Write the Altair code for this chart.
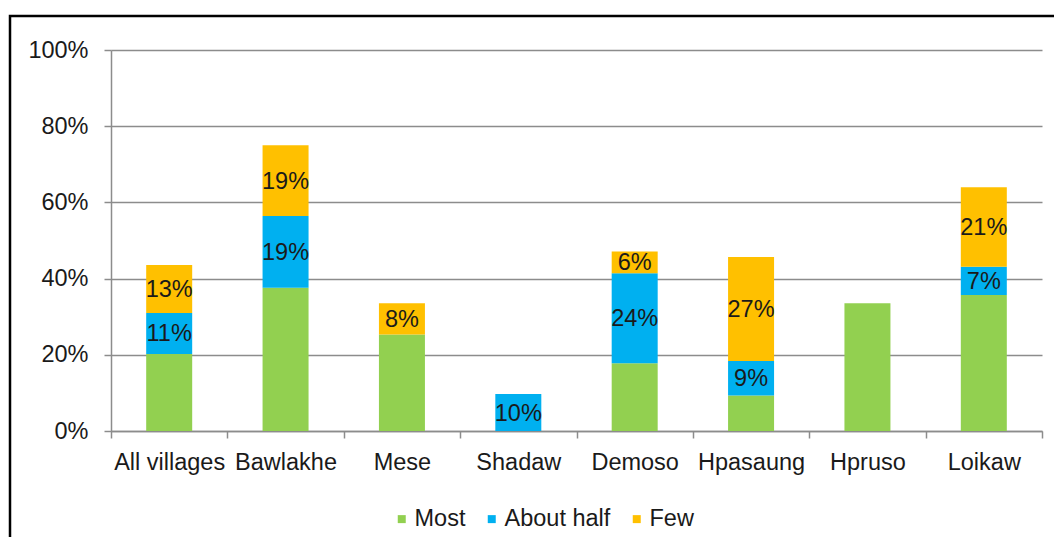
import altair as alt
import pandas as pd

categories = ["All villages", "Bawlakhe", "Mese", "Shadaw", "Demoso", "Hpasaung", "Hpruso", "Loikaw"]
series = ["Most", "About half", "Few"]
colors = ["#92D050", "#00B0F0", "#FFC000"]

most = [20.2, 37.6, 25.3, 0.0, 17.8, 9.3, 33.5, 35.7]
about_half = [10.8, 18.8, 0.0, 9.7, 23.6, 9.1, 0.0, 7.4]
few = [12.6, 18.6, 8.2, 0.0, 5.7, 27.3, 0.0, 20.9]

y_ticks = [0, 20, 40, 60, 80, 100]

rows = []
for i, c in enumerate(categories):
    for k, (s, vals) in enumerate(zip(series, [most, about_half, few])):
        rows.append({"cat": c, "series": s, "value": vals[i], "order": k})
df = pd.DataFrame(rows)

FONT = "Liberation Sans"
FS = 23.5
GRID = "#8c8c8c"
TXT = "#1a1a1a"

base = alt.Chart(df).transform_stack(
    stack="value", groupby=["cat"], as_=["y0", "y1"],
    sort=[alt.SortField("order", order="ascending")]
).transform_calculate(mid="(datum.y0 + datum.y1) / 2")

x_enc = alt.X(
    "cat:N", sort=categories,
    scale=alt.Scale(paddingInner=0, paddingOuter=0),
    axis=alt.Axis(title=None, labelAngle=0, tickBand="extent", tickSize=7,
                  tickColor=GRID, tickWidth=1.5, domainColor=GRID, domainWidth=1.5,
                  labelFont=FONT, labelFontSize=FS, labelColor=TXT,
                  labelPadding=12),
)

bars = base.mark_bar(size=46).encode(
    x=x_enc,
    y=alt.Y("y0:Q", scale=alt.Scale(domain=[0, 100]),
            axis=alt.Axis(title=None, values=y_ticks, labelExpr="datum.value + '%'",
                          grid=True, gridColor=GRID, gridWidth=1.5,
                          domainColor=GRID, domainWidth=1.5,
                          tickSize=7, tickColor=GRID, tickWidth=1.5,
                          labelFont=FONT, labelFontSize=FS, labelColor=TXT,
                          labelPadding=16)),
    y2="y1:Q",
    color=alt.Color("series:N", sort=series,
                    scale=alt.Scale(domain=series, range=colors),
                    legend=alt.Legend(title=None, orient="none", direction="horizontal",
                                      legendX=279, legendY=457, symbolType="square",
                                      symbolSize=64, symbolStrokeWidth=0,
                                      labelFont=FONT, labelFontSize=FS,
                                      labelColor=TXT, labelOffset=1,
                                      columnPadding=14, padding=0)),
    order=alt.Order("order:Q"),
)

labels = base.transform_filter(
    "datum.series != 'Most' && datum.value > 0"
).transform_calculate(
    lbl="format(datum.value, '.0f') + '%'"
).mark_text(font=FONT, fontSize=FS, color=TXT, baseline="middle", align="center", dy=1).encode(
    x=alt.X("cat:N", sort=categories),
    y=alt.Y("mid:Q"),
    text="lbl:N",
)

border = alt.Chart(pd.DataFrame({"a": [0]})).mark_rect(
    fill=None, stroke="black", strokeWidth=2.5
).encode(
    x=alt.value(-101), x2=alt.value(980), y=alt.value(-34), y2=alt.value(540)
)

chart = alt.layer(border, bars, labels).properties(
    width=931, height=381,
    autosize=alt.AutoSizeParams(type="none"),
    padding={"left": 103, "top": 42, "right": 12, "bottom": 106},
    background="white",
).configure_view(strokeWidth=0)

chart.save("out.html", embed_options={"renderer": "svg", "actions": False})
